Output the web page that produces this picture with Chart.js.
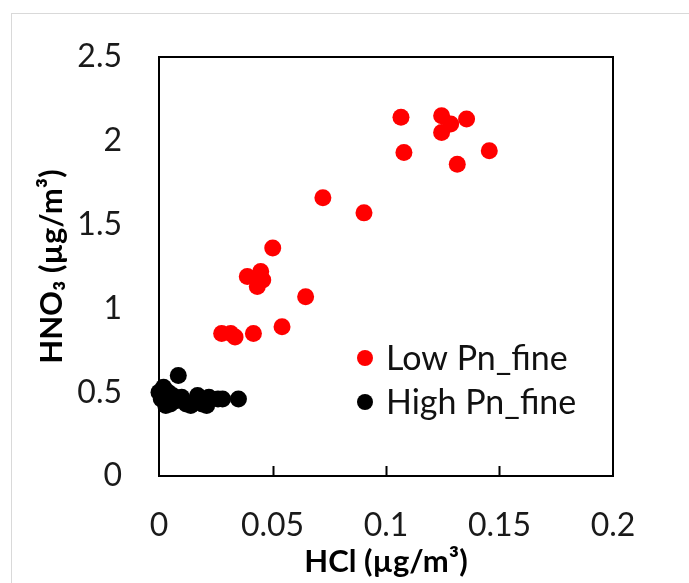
<!DOCTYPE html>
<html>
<head>
<meta charset="utf-8">
<script src="https://cdn.jsdelivr.net/npm/chart.js@4/dist/chart.umd.min.js"></script>
<style>
  html, body { margin: 0; padding: 0; background: #fff; overflow: hidden; }
  #frame { position: absolute; left: 11px; top: 13px; width: 720px; height: 620px; border: 1px solid #d9d9d9; }
  #wrap { position: absolute; left: 0; top: 0; width: 689px; height: 583px; }
</style>
</head>
<body>
<div id="frame"></div>
<div id="wrap"><canvas id="chart" width="689" height="583"></canvas></div>
<script>
// Low Pn_fine (red)
var lowX = [0.1066, 0.1245, 0.1285, 0.1245, 0.1355, 0.1079, 0.1455, 0.1314, 0.0722, 0.0903,
            0.0501, 0.0389, 0.0448, 0.0457, 0.0433, 0.0646, 0.0542, 0.0416, 0.0276, 0.0316, 0.0335];
var lowY = [2.14, 2.15, 2.10, 2.05, 2.13, 1.93, 1.94, 1.86, 1.66, 1.57,
            1.36, 1.19, 1.22, 1.17, 1.13, 1.07, 0.89, 0.85, 0.85, 0.85, 0.83];

// High Pn_fine (black)
var highX = [0.000, 0.001, 0.002, 0.003, 0.005, 0.006, 0.0085, 0.010, 0.012, 0.014,
             0.017, 0.019, 0.021, 0.022, 0.026, 0.028, 0.035, 0.004, 0.008];
var highY = [0.50, 0.46, 0.53, 0.42, 0.43, 0.48, 0.60, 0.47, 0.43, 0.42,
             0.48, 0.43, 0.42, 0.47, 0.46, 0.46, 0.46, 0.50, 0.45];

var seriesNames = ['Low Pn_fine', 'High Pn_fine'];
var xTicks = [0, 0.05, 0.1, 0.15, 0.2];
var yTicks = [0, 0.5, 1, 1.5, 2, 2.5];

function toPoints(xs, ys) {
    var pts = [];
    for (var i = 0; i < xs.length; i++) pts.push({x: xs[i], y: ys[i]});
    return pts;
}

// box round the plot area and inward x ticks
var boxPlugin = {
    id: 'box',
    beforeDatasetsDraw: function(chart) {
        var ctx = chart.ctx, a = chart.chartArea, xs = chart.scales.x;
        ctx.save();
        ctx.strokeStyle = '#000';
        ctx.lineWidth = 2;
        ctx.strokeRect(a.left, a.top, a.right - a.left, a.bottom - a.top);
        ctx.beginPath();
        xTicks.slice(1, -1).forEach(function(v) {
            var px = Math.round(xs.getPixelForValue(v)) + 0.5;
            ctx.moveTo(px, a.bottom);
            ctx.lineTo(px, a.bottom - 10);
        });
        ctx.stroke();
        ctx.restore();
    }
};

// legend inside the plot
var legendPlugin = {
    id: 'innerLegend',
    afterDraw: function(chart) {
        var ctx = chart.ctx;
        ctx.save();
        ctx.font = '34px Lato';
        ctx.textBaseline = 'middle';
        chart.data.datasets.forEach(function(ds, i) {
            var y = 358 + i * 44;
            ctx.beginPath();
            ctx.arc(365, y, 8, 0, Math.PI * 2);
            ctx.fillStyle = ds.backgroundColor;
            ctx.fill();
            ctx.fillStyle = '#111';
            ctx.fillText(ds.label, 386, y + 1);
        });
        ctx.restore();
    }
};

function plain(v) { return String(v); }

var ctx = document.getElementById('chart').getContext('2d');
var chart = new Chart(ctx, {
    type: 'scatter',
    data: {
        datasets: [{
            label: seriesNames[0],
            data: toPoints(lowX, lowY),
            backgroundColor: '#ff0000',
            borderWidth: 0,
            pointRadius: 8.5,
            clip: false
        }, {
            label: seriesNames[1],
            data: toPoints(highX, highY),
            backgroundColor: '#000000',
            borderWidth: 0,
            pointRadius: 8.5,
            clip: false
        }]
    },
    options: {
        responsive: false,
        animation: false,
        events: [],
        layout: { padding: { left: 0, top: 57, right: 76, bottom: 0 } },
        plugins: { legend: { display: false }, tooltip: { enabled: false } },
        scales: {
            x: {
                type: 'linear',
                min: 0, max: 0.2,
                afterBuildTicks: function(s) { s.ticks = xTicks.map(function(v) { return {value: v}; }); },
                afterFit: function(s) { s.height = 107; },
                grid: { display: false, drawTicks: false },
                border: { display: false },
                ticks: { padding: 30, color: '#1a1a1a', font: { family: 'Lato', size: 32 }, callback: plain },
                title: {
                    display: true,
                    text: 'HCl (µg/m³)',
                    color: '#000',
                    font: { family: 'Lato', size: 31, weight: 'bold' },
                    padding: { top: 0, bottom: 2 }
                }
            },
            y: {
                type: 'linear',
                min: 0, max: 2.5,
                afterBuildTicks: function(s) { s.ticks = yTicks.map(function(v) { return {value: v}; }); },
                afterFit: function(s) { s.width = 159; },
                grid: { display: false, drawTicks: false },
                border: { display: false },
                ticks: { padding: 37, color: '#1a1a1a', font: { family: 'Lato', size: 32 }, callback: plain },
                title: {
                    display: true,
                    text: 'HNO₃ (µg/m³)',
                    color: '#000',
                    font: { family: 'Lato', size: 31, weight: 'bold' },
                    padding: { top: 33, bottom: 0 }
                }
            }
        }
    },
    plugins: [boxPlugin, legendPlugin]
});
</script>
</body>
</html>
